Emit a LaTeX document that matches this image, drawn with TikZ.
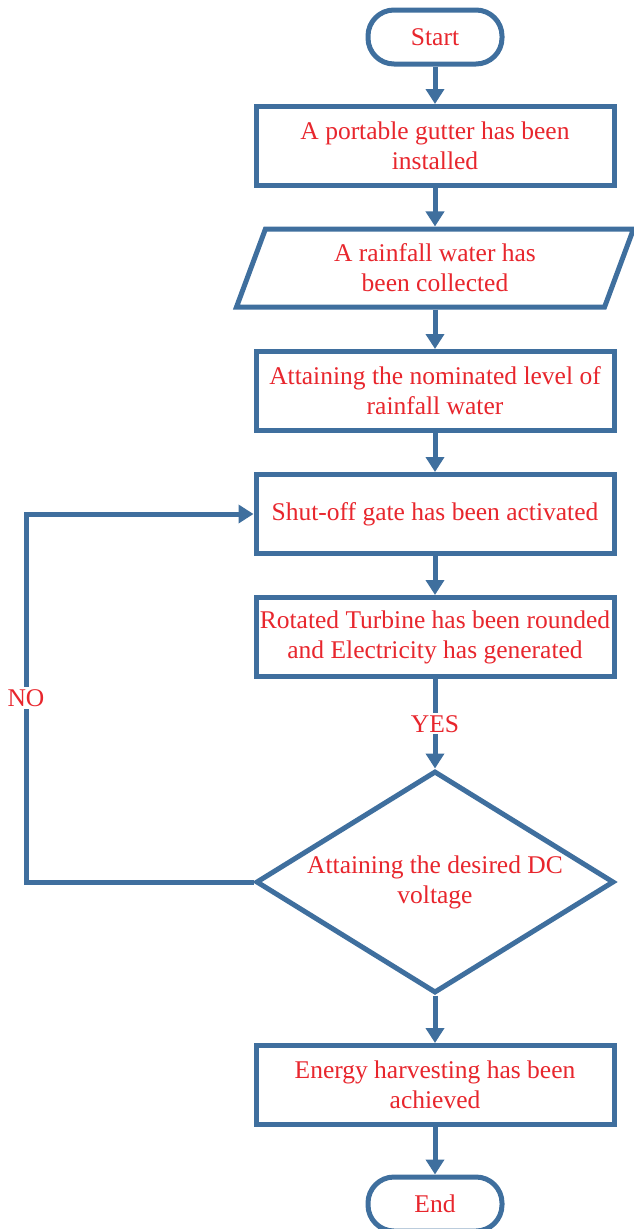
\documentclass[tikz,border=0pt]{standalone}
\usepackage{fontspec}
\setmainfont{Liberation Serif}
\usetikzlibrary{arrows.meta, positioning, shapes.geometric}
\definecolor{cblue}{HTML}{3F6F9E}
\definecolor{cred}{HTML}{E8262D}
\tikzset{
  every picture/.style={line width=5pt},
  box/.style={draw=cblue, rectangle, fill=white, align=center, text=cred, minimum width=358pt, minimum height=79pt, inner sep=2pt, font=\fontsize{25.5}{30}\selectfont},
  term/.style={box, rounded corners=26pt, minimum width=134pt, minimum height=54pt},
  arrow/.style={-{Triangle[length=15pt, width=18pt]}, draw=cblue, line width=5pt},
  lbl/.style={fill=white, text=cred, inner sep=2pt, font=\fontsize{25.5}{30}\selectfont},
}

\begin{document}
\begin{tikzpicture}[x=1pt, y=-1pt,
                    io/.style={box, trapezium, trapezium left angle=61, trapezium right angle=119, trapezium stretches body, minimum width=397pt, minimum height=78pt},
                    test/.style={box, diamond, aspect=1.61, minimum width=358pt, minimum height=222pt, inner sep=0pt}]
  \useasboundingbox (0,0) rectangle (633,1229);
  \node[term] (start) at (435, 37) {Start};
  \node[box] (gutter) at (435, 146) {A portable gutter has been\\installed};
  \node[io] (collect) at (435, 268) {A rainfall water has\\been collected};
  \node[box] (level) at (435, 391) {Attaining the nominated level of\\rainfall water};
  \node[box] (gate) at (435, 514) {Shut-off gate has been activated};
  \node[box] (turbine) at (435, 637) {Rotated Turbine has been rounded\\and Electricity has generated};
  \node[test] (volt) at (435, 882) {Attaining the desired DC\\voltage};
  \node[box] (harvest) at (435, 1085) {Energy harvesting has been\\achieved};
  \node[term] (stop) at (435, 1204) {End};
  \coordinate (back) at (26, 882);
  \draw[arrow] (start) -- (gutter);
  \draw[arrow] (gutter) -- (collect);
  \draw[arrow] (collect) -- (level);
  \draw[arrow] (level) -- (gate);
  \draw[arrow] (gate) -- (turbine);
  \draw[arrow] (turbine) -- node[lbl] {YES} (volt);
  \draw[arrow] (volt) -- (harvest);
  \draw[arrow] (harvest) -- (stop);
  \draw[arrow] (volt.west) -- (back) |- node[lbl, pos=0.25] {NO} (gate.west);
\end{tikzpicture}
\end{document}
